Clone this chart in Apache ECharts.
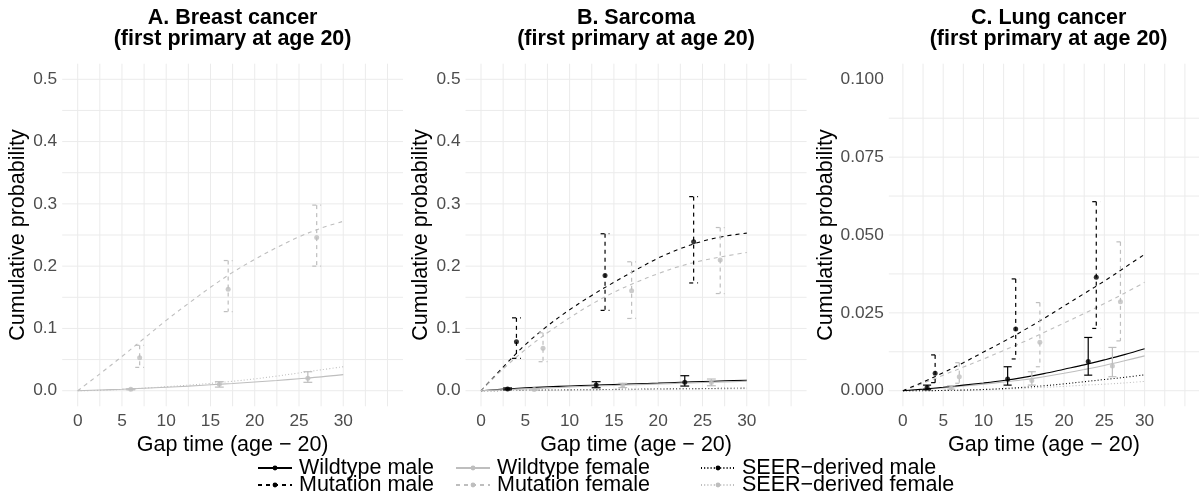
<!DOCTYPE html>
<html>
<head>
<meta charset="utf-8">
<script src="https://cdn.jsdelivr.net/npm/echarts@6.0.0/dist/echarts.min.js"></script>
<style>
  html, body { margin: 0; padding: 0; background: #fff; }
  #chart { width: 1199px; height: 501px; }
</style>
</head>
<body>
<div id="chart"></div>
<script>
// ---- Fitted cumulative probability curves, evaluated at these gap times ----
const gapTimes = [0, 2.5, 5, 7.5, 10, 12.5, 15, 17.5, 20, 22.5, 25, 27.5, 30];

// A. Breast cancer (female only)
const breastWildtypeFemale = [0, 0.0011, 0.0024, 0.0039, 0.0056, 0.0074, 0.0095, 0.0116, 0.014, 0.0165, 0.0193, 0.0222, 0.0258];
const breastMutationFemale = [0, 0.027, 0.055, 0.084, 0.113, 0.14, 0.166, 0.19, 0.211, 0.23, 0.247, 0.261, 0.272];
const breastSeerFemale     = [0, 0.0006, 0.0022, 0.0042, 0.0064, 0.009, 0.0118, 0.0152, 0.019, 0.0235, 0.0285, 0.0336, 0.0385];

// B. Sarcoma
const sarcomaWildtypeMale   = [0, 0.0025, 0.0045, 0.0062, 0.0077, 0.0089, 0.01, 0.0111, 0.0122, 0.0136, 0.0148, 0.0158, 0.0167];
const sarcomaWildtypeFemale = [0, 0.0015, 0.003, 0.0045, 0.006, 0.0073, 0.0085, 0.0097, 0.0108, 0.012, 0.0131, 0.0142, 0.0153];
const sarcomaMutationMale   = [0, 0.038, 0.074, 0.104, 0.13, 0.153, 0.174, 0.194, 0.213, 0.228, 0.24, 0.248, 0.253];
const sarcomaMutationFemale = [0, 0.035, 0.066, 0.093, 0.117, 0.139, 0.158, 0.174, 0.188, 0.2, 0.209, 0.216, 0.222];
const sarcomaSeerMale       = [0, 0.0003, 0.0007, 0.001, 0.0014, 0.0017, 0.0021, 0.0024, 0.0028, 0.0031, 0.0035, 0.0038, 0.0042];
const sarcomaSeerFemale     = [0, 0.0003, 0.0005, 0.0008, 0.0011, 0.0013, 0.0016, 0.0019, 0.0021, 0.0024, 0.0027, 0.003, 0.0032];

// C. Lung cancer
const lungWildtypeMale   = [0, 0.0005, 0.0011, 0.0018, 0.0025, 0.0033, 0.0043, 0.0055, 0.0069, 0.0083, 0.0099, 0.0116, 0.0135];
const lungWildtypeFemale = [0, 0.0004, 0.0009, 0.0015, 0.0021, 0.0028, 0.0035, 0.0045, 0.0056, 0.0068, 0.0081, 0.0096, 0.0112];
const lungMutationMale   = [0, 0.0028, 0.0058, 0.009, 0.0124, 0.0158, 0.0194, 0.0232, 0.0272, 0.0312, 0.0352, 0.0395, 0.0438];
const lungMutationFemale = [0, 0.0024, 0.005, 0.0076, 0.0102, 0.0129, 0.0157, 0.0187, 0.0217, 0.0248, 0.028, 0.0313, 0.0348];
const lungSeerMale       = [0, 0, 0.0001, 0.0002, 0.0004, 0.0007, 0.0011, 0.0016, 0.0022, 0.0029, 0.0036, 0.0043, 0.0051];
const lungSeerFemale     = [0, 0, 0.0001, 0.0002, 0.0003, 0.0005, 0.0008, 0.0011, 0.0014, 0.0018, 0.0021, 0.0025, 0.003];

// ---- Observed estimates with 95% intervals (dodged gap times) ----
const timesWildtypeMale   = [3, 13, 23];
const timesMutationMale   = [4, 14, 24];
const timesWildtypeFemale = [6, 16, 26];
const timesMutationFemale = [7, 17, 27];

const breastWtFemaleEst = [0.0023, 0.0103, 0.0199];
const breastWtFemaleLo  = [0.0015, 0.0058, 0.0135];
const breastWtFemaleHi  = [0.0032, 0.0145, 0.0305];
const breastMutFemaleEst = [0.053, 0.163, 0.246];
const breastMutFemaleLo  = [0.0375, 0.127, 0.2];
const breastMutFemaleHi  = [0.073, 0.209, 0.298];

const sarcomaWtMaleEst = [0.0028, 0.009, 0.0135];
const sarcomaWtMaleLo  = [0.0015, 0.0048, 0.0075];
const sarcomaWtMaleHi  = [0.0045, 0.0145, 0.0241];
const sarcomaWtFemaleEst = [0.0018, 0.0087, 0.0132];
const sarcomaWtFemaleLo  = [0.001, 0.005, 0.008];
const sarcomaWtFemaleHi  = [0.0028, 0.0119, 0.0188];
const sarcomaMutMaleEst = [0.0787, 0.185, 0.239];
const sarcomaMutMaleLo  = [0.052, 0.129, 0.173];
const sarcomaMutMaleHi  = [0.117, 0.252, 0.3116];
const sarcomaMutFemaleEst = [0.068, 0.1606, 0.21];
const sarcomaMutFemaleLo  = [0.0466, 0.116, 0.156];
const sarcomaMutFemaleHi  = [0.093, 0.207, 0.262];

const lungWtMaleEst = [0.001, 0.0038, 0.0094];
const lungWtMaleLo  = [0.0003, 0.0018, 0.005];
const lungWtMaleHi  = [0.0018, 0.0077, 0.0171];
const lungWtFemaleEst = [0.0009, 0.0033, 0.0079];
const lungWtFemaleLo  = [0.0005, 0.0018, 0.0045];
const lungWtFemaleHi  = [0.0016, 0.0061, 0.0139];
const lungMutMaleEst = [0.0056, 0.0198, 0.0364];
const lungMutMaleLo  = [0.0026, 0.0102, 0.02];
const lungMutMaleHi  = [0.0115, 0.0359, 0.0607];
const lungMutFemaleEst = [0.0045, 0.0156, 0.0286];
const lungMutFemaleLo  = [0.0024, 0.0077, 0.016];
const lungMutFemaleHi  = [0.009, 0.0283, 0.0478];

// ---- Axis labels ----
const panelTitles = [
  'A. Breast cancer\n(first primary at age 20)',
  'B. Sarcoma\n(first primary at age 20)',
  'C. Lung cancer\n(first primary at age 20)'
];
const xTickLabels = [0, 5, 10, 15, 20, 25, 30];
const yTickLabelsProb = [0, 0.1, 0.2, 0.3, 0.4, 0.5];
const yTickLabelsLung = [0, 0.025, 0.05, 0.075, 0.1];
const xAxisTitle = 'Gap time (age \u2212 20)';
const yAxisTitle = 'Cumulative probability';

const seriesNames = {
  wtM: 'Wildtype male', mutM: 'Mutation male',
  wtF: 'Wildtype female', mutF: 'Mutation female',
  seerM: 'SEER\u2212derived male', seerF: 'SEER\u2212derived female'
};

// ---- Styling ----
const FONT = 'Liberation Sans';
const BLACK = '#000000';
const GREY = '#BEBEBE';
const GRID_COLOR = '#EBEBEB';
const DASH = [4, 4];
const DOT = [1, 2.2];
const styleOf = {
  wtM:  { color: BLACK, dash: 'solid' },
  mutM: { color: BLACK, dash: DASH },
  wtF:  { color: GREY,  dash: 'solid' },
  mutF: { color: GREY,  dash: DASH },
  seerM:{ color: BLACK, dash: DOT },
  seerF:{ color: GREY,  dash: DOT }
};

// panel layout in pixels
const panels = [
  { left: 62.2,  width: 340.8, yMax: 0.525, yMin: -0.025, yStep: 0.05,   ticks: yTickLabelsProb, digits: 1, nameGap: 33 },
  { left: 465.5, width: 341.1, yMax: 0.525, yMin: -0.025, yStep: 0.05,   ticks: yTickLabelsProb, digits: 1, nameGap: 33 },
  { left: 888.8, width: 319.6, yMax: 0.105, yMin: -0.005, yStep: 0.0125, ticks: yTickLabelsLung, digits: 3, nameGap: 52 }
];
const TOP = 63.7, HEIGHT = 342.6;

const zip = (xs, ys) => xs.map((x, i) => [x, ys[i]]);
const zip3 = (xs, a, b) => xs.map((x, i) => [x, a[i], b[i]]);

const series = [];

// background grid lines for each panel
panels.forEach((p, gi) => {
  const vLines = [];
  for (let v = 0; v <= 35.0001; v += 2.5) vLines.push([v, 0]);
  const hLines = [];
  for (let k = 0; k * p.yStep <= p.yMax - p.yStep / 2 + 1e-9; k++) hLines.push([0, k * p.yStep]);
  series.push({
    type: 'custom', xAxisIndex: gi, yAxisIndex: gi, silent: true, z: 0, clip: false,
    data: vLines,
    renderItem: (params, api) => {
      const cs = params.coordSys;
      const x = api.coord([api.value(0), 0])[0];
      return { type: 'line', shape: { x1: x, y1: cs.y, x2: x, y2: cs.y + cs.height },
               style: { stroke: GRID_COLOR, lineWidth: 1 } };
    }
  });
  series.push({
    type: 'custom', xAxisIndex: gi, yAxisIndex: gi, silent: true, z: 0, clip: false,
    data: hLines,
    renderItem: (params, api) => {
      const cs = params.coordSys;
      const y = api.coord([0, api.value(1)])[1];
      return { type: 'line', shape: { x1: cs.x, y1: y, x2: cs.x + cs.width, y2: y },
               style: { stroke: GRID_COLOR, lineWidth: 1 } };
    }
  });
});

function curve(gi, key, values) {
  const s = styleOf[key];
  series.push({
    type: 'line', name: seriesNames[key], xAxisIndex: gi, yAxisIndex: gi,
    data: zip(gapTimes, values), smooth: 0.35, showSymbol: false,
    symbol: 'circle', symbolSize: 5, silent: true, z: 3,
    lineStyle: { color: s.color, width: 1.1, type: s.dash },
    itemStyle: { color: s.color }
  });
}

function estimates(gi, key, times, est, lo, hi) {
  const s = styleOf[key];
  const dash = s.dash === 'solid' ? null : s.dash;
  series.push({
    type: 'custom', xAxisIndex: gi, yAxisIndex: gi, silent: true, z: 4,
    data: zip3(times, lo, hi),
    encode: { x: 0, y: [1, 2] },
    renderItem: (params, api) => {
      const x = api.value(0);
      const top = api.coord([x, api.value(2)]);
      const bot = api.coord([x, api.value(1)]);
      const half = api.size([0.5, 0])[0];
      const style = { stroke: s.color, lineWidth: 1.2, lineDash: dash, fill: null };
      return { type: 'group', children: [
        { type: 'line', shape: { x1: top[0] - half, y1: top[1], x2: top[0] + half, y2: top[1] }, style },
        { type: 'line', shape: { x1: top[0], y1: top[1], x2: bot[0], y2: bot[1] }, style },
        { type: 'line', shape: { x1: bot[0] - half, y1: bot[1], x2: bot[0] + half, y2: bot[1] }, style }
      ] };
    }
  });
  series.push({
    type: 'scatter', xAxisIndex: gi, yAxisIndex: gi, silent: true, z: 5,
    data: zip(times, est), symbol: 'circle', symbolSize: 5,
    itemStyle: { color: s.color }
  });
}

// Panel A
curve(0, 'wtF', breastWildtypeFemale);
curve(0, 'mutF', breastMutationFemale);
curve(0, 'seerF', breastSeerFemale);
estimates(0, 'wtF', timesWildtypeFemale, breastWtFemaleEst, breastWtFemaleLo, breastWtFemaleHi);
estimates(0, 'mutF', timesMutationFemale, breastMutFemaleEst, breastMutFemaleLo, breastMutFemaleHi);

// Panel B
curve(1, 'wtM', sarcomaWildtypeMale);
curve(1, 'mutM', sarcomaMutationMale);
curve(1, 'seerM', sarcomaSeerMale);
curve(1, 'wtF', sarcomaWildtypeFemale);
curve(1, 'mutF', sarcomaMutationFemale);
curve(1, 'seerF', sarcomaSeerFemale);
estimates(1, 'wtF', timesWildtypeFemale, sarcomaWtFemaleEst, sarcomaWtFemaleLo, sarcomaWtFemaleHi);
estimates(1, 'mutF', timesMutationFemale, sarcomaMutFemaleEst, sarcomaMutFemaleLo, sarcomaMutFemaleHi);
estimates(1, 'wtM', timesWildtypeMale, sarcomaWtMaleEst, sarcomaWtMaleLo, sarcomaWtMaleHi);
estimates(1, 'mutM', timesMutationMale, sarcomaMutMaleEst, sarcomaMutMaleLo, sarcomaMutMaleHi);

// Panel C
curve(2, 'wtF', lungWildtypeFemale);
curve(2, 'mutF', lungMutationFemale);
curve(2, 'seerF', lungSeerFemale);
curve(2, 'wtM', lungWildtypeMale);
curve(2, 'mutM', lungMutationMale);
curve(2, 'seerM', lungSeerMale);
estimates(2, 'wtF', timesWildtypeFemale, lungWtFemaleEst, lungWtFemaleLo, lungWtFemaleHi);
estimates(2, 'mutF', timesMutationFemale, lungMutFemaleEst, lungMutFemaleLo, lungMutFemaleHi);
estimates(2, 'wtM', timesWildtypeMale, lungWtMaleEst, lungWtMaleLo, lungWtMaleHi);
estimates(2, 'mutM', timesMutationMale, lungMutMaleEst, lungMutMaleLo, lungMutMaleHi);

const grids = panels.map(p => ({ left: p.left, top: TOP, width: p.width, height: HEIGHT, containLabel: false }));

const xAxes = panels.map((p, gi) => ({
  type: 'value', gridIndex: gi, min: -1.75, max: 36.75,
  axisLine: { show: false }, axisTick: { show: false }, splitLine: { show: false },
  axisLabel: { customValues: xTickLabels, color: '#4D4D4D', fontSize: 17.3, fontFamily: FONT, margin: 6,
               formatter: v => String(v) },
  name: xAxisTitle, nameLocation: 'middle', nameGap: 21,
  nameTextStyle: { color: '#000', fontSize: 21.5, fontFamily: FONT }
}));

const yAxes = panels.map((p, gi) => ({
  type: 'value', gridIndex: gi, min: p.yMin, max: p.yMax,
  axisLine: { show: false }, axisTick: { show: false }, splitLine: { show: false },
  axisLabel: { customValues: p.ticks, color: '#4D4D4D', fontSize: 17.3, fontFamily: FONT, margin: 5,
               formatter: v => Number(v).toFixed(p.digits) },
  name: yAxisTitle, nameLocation: 'middle', nameGap: p.nameGap, nameRotate: 90,
  nameTextStyle: { color: '#000', fontSize: 21.5, fontFamily: FONT }
}));

// legend laid out as three columns of two rows
const legendCols = [257, 455, 700];
const legendRows = [457, 474];
const legendLayout = [
  ['wtM', 0, 0], ['mutM', 0, 1],
  ['wtF', 1, 0], ['mutF', 1, 1],
  ['seerM', 2, 0], ['seerF', 2, 1]
];
const legends = legendLayout.map(([key, c, r]) => ({
  data: [seriesNames[key]], left: legendCols[c], top: legendRows[r],
  itemWidth: 34, itemHeight: 6, padding: 0, selectedMode: false,
  textStyle: { fontSize: 21.5, fontFamily: FONT, color: '#000', padding: [0, 0, 0, 2] }
}));

const titleGraphics = panels.map((p, gi) => ({
  type: 'text', x: p.left + p.width / 2, y: 8,
  style: { text: panelTitles[gi], align: 'center', verticalAlign: 'top',
           font: 'bold 21.5px "' + FONT + '"', fill: '#000', lineHeight: 21 }
}));

const chart = echarts.init(document.getElementById('chart'), null, { renderer: 'canvas' });
chart.setOption({
  animation: false,
  backgroundColor: '#ffffff',
  textStyle: { fontFamily: FONT },
  grid: grids,
  xAxis: xAxes,
  yAxis: yAxes,
  legend: legends,
  graphic: titleGraphics,
  series: series
});
</script>
</body>
</html>
